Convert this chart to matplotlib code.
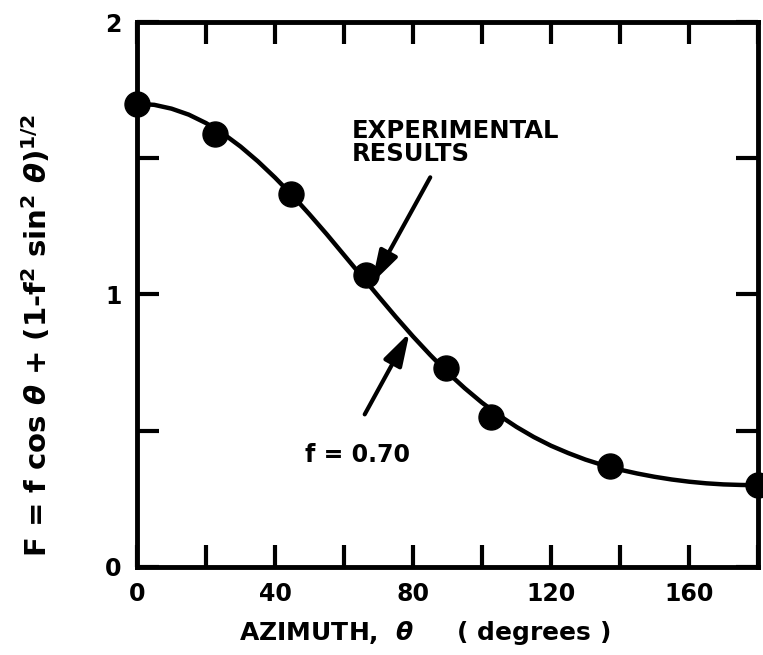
import matplotlib
matplotlib.use("Agg")
import matplotlib.pyplot as plt

plt.rcParams['font.family'] = ['DejaVu Sans']
plt.rcParams['font.weight'] = 'bold'
plt.rcParams['mathtext.fontset'] = 'custom'
plt.rcParams['mathtext.rm'] = 'DejaVu Sans:bold'
plt.rcParams['mathtext.it'] = 'DejaVu Sans:italic:bold'

# theoretical curve, f = 0.70, read every 5 degrees
theta_curve = [0, 5, 10, 15, 20, 25, 30, 35, 40, 45, 50, 55, 60, 65, 70, 75, 80, 85, 90,
               95, 100, 105, 110, 115, 120, 125, 130, 135, 140, 145, 150, 155, 160, 165,
               170, 175, 180]
F_curve = [1.700, 1.696, 1.682, 1.660, 1.629, 1.590, 1.543, 1.489, 1.429, 1.364, 1.294,
           1.221, 1.145, 1.069, 0.993, 0.918, 0.846, 0.778, 0.714, 0.656, 0.603, 0.556,
           0.514, 0.477, 0.445, 0.418, 0.394, 0.374, 0.357, 0.343, 0.331, 0.321, 0.313,
           0.307, 0.303, 0.301, 0.300]

# experimental results
theta_exp = [0, 22.5, 44.5, 66.5, 89.5, 102.5, 137, 180]
F_exp = [1.70, 1.59, 1.37, 1.07, 0.73, 0.55, 0.37, 0.30]

x_ticks = [0, 20, 40, 60, 80, 100, 120, 140, 160, 180]
x_labels = ['0', '', '40', '', '80', '', '120', '', '160', '']
y_ticks = [0, 0.5, 1, 1.5, 2]
y_labels = ['0', '', '1', '', '2']

fig = plt.figure(figsize=(7.63, 6.55), dpi=100)
ax = fig.add_axes([0.1796, 0.1344, 0.8138, 0.832])

ax.plot(theta_curve, F_curve, color='black', lw=3.2, solid_capstyle='round')
ax.plot(theta_exp, F_exp, 'o', color='black', markersize=18, clip_on=False, zorder=5)

ax.set_xlim(0, 180)
ax.set_ylim(0, 2)
ax.set_xticks(x_ticks)
ax.set_xticklabels(x_labels)
ax.set_yticks(y_ticks)
ax.set_yticklabels(y_labels)
ax.tick_params(direction='in', length=16, width=3, labelsize=17, top=True, right=True,
               pad=11)
for s in ax.spines.values():
    s.set_linewidth(3.5)

ax.set_xlabel(r'AZIMUTH,  $\theta$     ( degrees )', fontsize=18, fontweight='bold')
ax.xaxis.set_label_coords(0.464, -0.095)
ax.set_ylabel(r'F = f cos $\theta$ + (1-f$^2$ sin$^2$ $\theta$)$^{1/2}$', fontsize=21,
              fontweight='bold')
ax.yaxis.set_label_coords(-0.135, 0.425)

ax.text(62.3, 1.645, 'EXPERIMENTAL\nRESULTS', fontsize=17.5, fontweight='bold',
        va='top', ha='left', linespacing=0.95)
ax.text(48.7, 0.41, 'f = 0.70', fontsize=17, fontweight='bold', va='center', ha='left')

arrow = dict(arrowstyle='-|>,head_length=1.0,head_width=0.3', lw=3, color='black',
             shrinkA=0, shrinkB=0, mutation_scale=20)
ax.annotate('', xy=(68, 1.04), xytext=(85, 1.43), arrowprops=arrow)
ax.annotate('', xy=(79, 0.86), xytext=(66, 0.56), arrowprops=arrow)

fig.savefig('out.png', dpi=100)
